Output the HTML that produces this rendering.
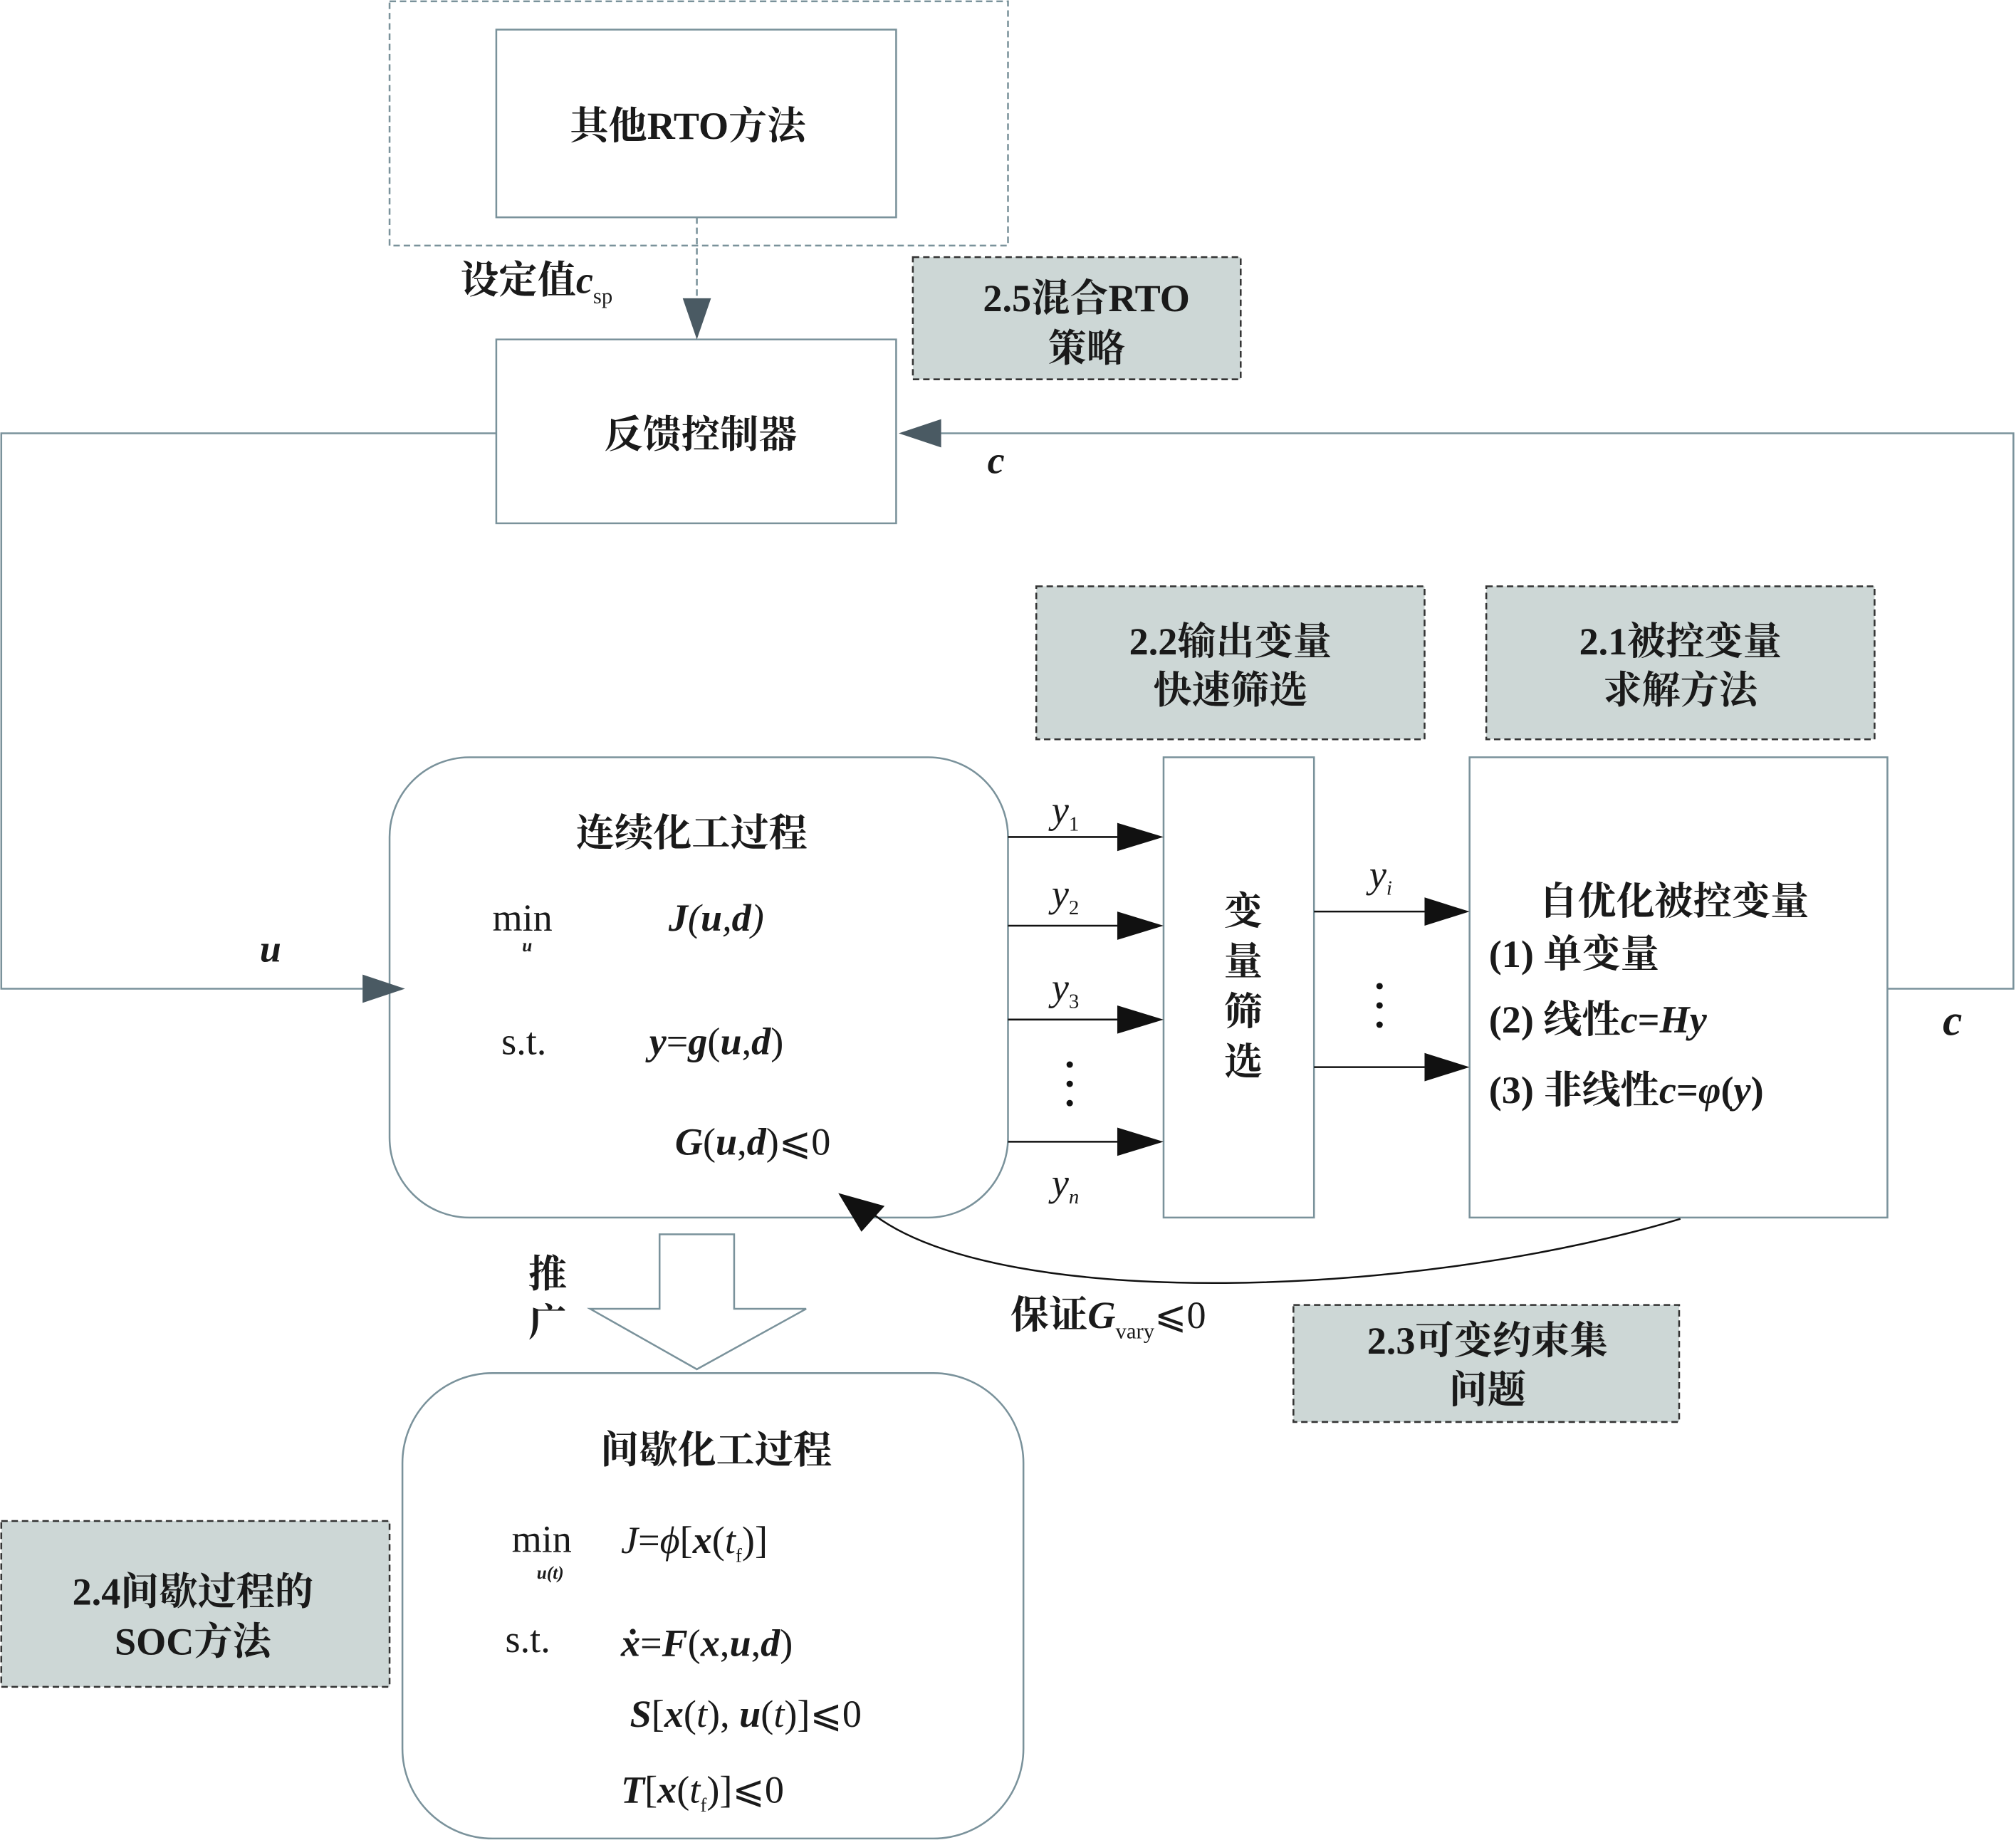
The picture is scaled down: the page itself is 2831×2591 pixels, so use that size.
<!DOCTYPE html>
<html><head><meta charset="utf-8"><style>
html,body{margin:0;padding:0;background:#fff}
svg{display:block}
text{font-family:"Liberation Serif","Noto Serif CJK SC",serif;fill:#1a1a1a}
.b{font-weight:bold}
</style></head><body>
<svg width="2831" height="2591" viewBox="0 0 1568 1435" xmlns="http://www.w3.org/2000/svg">
<g fill="none" stroke="#7a929b" stroke-width="1.4">
<rect x="303" y="1" width="481" height="190" stroke-dasharray="5,3"/>
<rect x="386" y="23" width="311" height="146"/>
<rect x="386" y="264" width="311" height="143"/>
<line x1="542" y1="169" x2="542" y2="232" stroke-dasharray="5,3"/>
<polyline points="386,337 1,337 1,769 282,769"/>
<polyline points="1468,769 1566,769 1566,337 732,337"/>
<rect x="303" y="589" width="481" height="358" rx="62" ry="62"/>
<rect x="905" y="589" width="117" height="358"/>
<rect x="1143" y="589" width="325" height="358"/>
<rect x="313" y="1068" width="483" height="362" rx="70" ry="70"/>
<polygon points="513,960 571,960 571,1018 627,1018 542,1065 459,1018 513,1018"/>
</g>
<g fill="#4a5a63">
<polygon points="531,232 553,232 542,264"/>
<polygon points="282,758 282,780 315,769"/>
<polygon points="732,326 732,348 699,337"/>
</g>
<g fill="#cdd7d6" stroke="#333" stroke-width="1.4" stroke-dasharray="5,3">
<rect x="710" y="200" width="255" height="95"/>
<rect x="806" y="456" width="302" height="119"/>
<rect x="1156" y="456" width="302" height="119"/>
<rect x="1006" y="1015" width="300" height="91"/>
<rect x="1" y="1183" width="302" height="129"/>
</g>
<g stroke="#111" stroke-width="1.4" fill="none">
<line x1="784" y1="651" x2="869" y2="651"/>
<line x1="784" y1="720" x2="869" y2="720"/>
<line x1="784" y1="793" x2="869" y2="793"/>
<line x1="784" y1="888" x2="869" y2="888"/>
<line x1="1022" y1="709" x2="1108" y2="709"/>
<line x1="1022" y1="830" x2="1108" y2="830"/>
<path d="M1307,948 C1100,1010 780,1020 680,945"/>
</g>
<g fill="#111">
<polygon points="869,640 869,662 905,651"/>
<polygon points="869,709 869,731 905,720"/>
<polygon points="869,782 869,804 905,793"/>
<polygon points="869,877 869,899 905,888"/>
<polygon points="1108,698 1108,720 1143,709"/>
<polygon points="1108,819 1108,841 1143,830"/>
<polygon points="652,928 688,938 670,958"/>
<circle cx="832" cy="828" r="2.5"/><circle cx="832" cy="843" r="2.5"/><circle cx="832" cy="858" r="2.5"/>
<circle cx="1073" cy="767" r="2.5"/><circle cx="1073" cy="782" r="2.5"/><circle cx="1073" cy="797" r="2.5"/>
</g>
<g font-size="30" text-anchor="middle" class="b">
<text x="535" y="108">其他RTO方法</text>
<text x="545" y="348">反馈控制器</text>
<text x="845" y="242">2.5混合RTO</text>
<text x="845" y="281">策略</text>
<text x="957" y="509">2.2输出变量</text>
<text x="957" y="547">快速筛选</text>
<text x="1307" y="509">2.1被控变量</text>
<text x="1307" y="547">求解方法</text>
<text x="1157" y="1053">2.3可变约束集</text>
<text x="1157" y="1091">问题</text>
<text x="150" y="1248">2.4间歇过程的</text>
<text x="150" y="1287">SOC方法</text>
<text x="538" y="658">连续化工过程</text>
<text x="557" y="1138">间歇化工过程</text>
<text x="1302" y="711">自优化被控变量</text>
<text x="967" y="719">变</text>
<text x="967" y="758">量</text>
<text x="967" y="797">筛</text>
<text x="967" y="836">选</text>
<text x="426" y="1001">推</text>
<text x="426" y="1039">广</text>
</g>
<g font-size="30">
<text x="358" y="228" class="b">设定值<tspan font-style="italic">c</tspan><tspan font-size="17" dy="8" font-weight="normal">sp</tspan></text>
<text x="1158" y="752" class="b">(1) 单变量</text>
<text x="1158" y="803" class="b">(2) 线性<tspan font-style="italic">c</tspan>=<tspan font-style="italic">Hy</tspan></text>
<text x="1158" y="858" class="b">(3) 非线性<tspan font-style="italic">c</tspan>=<tspan font-style="italic">φ</tspan>(<tspan font-style="italic">y</tspan>)</text>
<text x="786" y="1033" class="b">保证<tspan font-style="italic">G</tspan><tspan font-size="17" dy="8" font-weight="normal">vary</tspan><tspan dy="-8" font-weight="normal">⩽0</tspan></text>
<text x="383" y="724">min</text>
<text x="390" y="820">s.t.</text>
<text x="520" y="724" font-style="italic"><tspan font-weight="bold" font-style="italic">J</tspan>(<tspan font-weight="bold">u</tspan>,<tspan font-weight="bold">d</tspan>)</text>
<text x="505" y="820"><tspan font-weight="bold" font-style="italic">y</tspan>=<tspan font-weight="bold" font-style="italic">g</tspan>(<tspan font-weight="bold" font-style="italic">u</tspan>,<tspan font-weight="bold" font-style="italic">d</tspan>)</text>
<text x="525" y="898"><tspan font-weight="bold" font-style="italic">G</tspan>(<tspan font-weight="bold" font-style="italic">u</tspan>,<tspan font-weight="bold" font-style="italic">d</tspan>)⩽0</text>
<text x="398" y="1207">min</text>
<text x="393" y="1285">s.t.</text>
<text x="483" y="1208"><tspan font-style="italic">J</tspan>=<tspan font-style="italic">ϕ</tspan>[<tspan font-weight="bold" font-style="italic">x</tspan>(<tspan font-style="italic">t</tspan><tspan font-size="15" dy="7">f</tspan><tspan dy="-7">)]</tspan></text>
<text x="483" y="1288"><tspan font-weight="bold" font-style="italic">ẋ</tspan>=<tspan font-weight="bold" font-style="italic">F</tspan>(<tspan font-weight="bold" font-style="italic">x</tspan>,<tspan font-weight="bold" font-style="italic">u</tspan>,<tspan font-weight="bold" font-style="italic">d</tspan>)</text>
<text x="490" y="1343"><tspan font-weight="bold" font-style="italic">S</tspan>[<tspan font-weight="bold" font-style="italic">x</tspan>(<tspan font-style="italic">t</tspan>), <tspan font-weight="bold" font-style="italic">u</tspan>(<tspan font-style="italic">t</tspan>)]⩽0</text>
<text x="483" y="1402"><tspan font-weight="bold" font-style="italic">T</tspan>[<tspan font-weight="bold" font-style="italic">x</tspan>(<tspan font-style="italic">t</tspan><tspan font-size="15" dy="7">f</tspan><tspan dy="-7">)]⩽0</tspan></text>
<text x="818" y="640" font-style="italic">y<tspan font-size="16" dy="6" font-style="normal">1</tspan></text>
<text x="818" y="705" font-style="italic">y<tspan font-size="16" dy="6" font-style="normal">2</tspan></text>
<text x="818" y="778" font-style="italic">y<tspan font-size="16" dy="6" font-style="normal">3</tspan></text>
<text x="818" y="930" font-style="italic">y<tspan font-size="16" dy="6">n</tspan></text>
<text x="1065" y="690" font-style="italic">y<tspan font-size="16" dy="6">i</tspan></text>
<text x="202" y="748" font-weight="bold" font-style="italic">u</text>
<text x="768" y="368" font-weight="bold" font-style="italic">c</text>
<text x="1511" y="805" font-weight="bold" font-style="italic" font-size="34">c</text>
</g>
<g font-size="14" font-weight="bold" font-style="italic" text-anchor="middle">
<text x="410" y="740">u</text>
<text x="428" y="1228">u(t)</text>
</g>
</svg>
</body></html>
